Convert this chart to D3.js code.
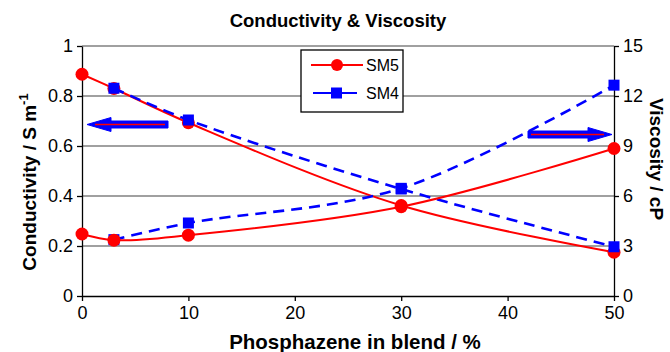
<!DOCTYPE html>
<html>
<head>
<meta charset="utf-8">
<script src="https://cdn.jsdelivr.net/npm/d3@7"></script>
<style>
  html, body { margin: 0; padding: 0; background: #fff; }
  svg { display: block; font-family: "Liberation Sans", Arial, sans-serif; }
</style>
</head>
<body>
<svg id="chart" width="670" height="352"></svg>
<script>
// Phosphazene content in the blend (%)
const xSM5 = [0, 3, 10, 30, 50];
const xSM4 = [3, 10, 30, 50];

// Conductivity, S m^-1 (left axis)
const condSM5 = [0.887, 0.83, 0.693, 0.362, 0.175];
const condSM4 = [0.831, 0.704, 0.428, 0.197];

// Viscosity, cP (right axis)
const viscSM5 = [3.72, 3.35, 3.65, 5.36, 8.85];
const viscSM4 = [3.38, 4.38, 6.46, 12.65];

const xTicks = [0, 10, 20, 30, 40, 50];
const condTicks = [0, 0.2, 0.4, 0.6, 0.8, 1];
const viscTicks = [0, 3, 6, 9, 12, 15];

const svg = d3.select("#chart");
const W = 670, H = 352;
const m = { left: 82, right: 56, top: 46, bottom: 56 };

const x = d3.scaleLinear().domain([0, 50]).range([m.left, W - m.right]);
const yL = d3.scaleLinear().domain([0, 1]).range([H - m.bottom, m.top]);
const yR = d3.scaleLinear().domain([0, 15]).range([H - m.bottom, m.top]);

const RED = "#ff0000", BLUE = "#0000ff";

// Horizontal gridlines
svg.append("g").selectAll("line")
  .data(condTicks.slice(1))
  .join("line")
  .attr("x1", m.left).attr("x2", W - m.right)
  .attr("y1", d => yL(d)).attr("y2", d => yL(d))
  .attr("stroke", "#808080").attr("stroke-width", 1.3);

// Axes
const axisStyle = g => {
  g.select(".domain").attr("stroke", "#000").attr("stroke-width", 1.3);
  g.selectAll(".tick line").attr("stroke", "#000").attr("stroke-width", 1.3);
  g.selectAll(".tick text").attr("font-size", 18).attr("fill", "#000")
    .attr("font-family", "Liberation Sans, Arial, sans-serif");
};

svg.append("g")
  .attr("transform", `translate(0,${H - m.bottom})`)
  .call(d3.axisBottom(x).tickValues(xTicks).tickSize(5).tickSizeOuter(0).tickPadding(5))
  .call(axisStyle);

svg.append("g")
  .attr("transform", `translate(${m.left},0)`)
  .call(d3.axisLeft(yL).tickValues(condTicks).tickFormat(d3.format("~g")).tickSize(5).tickSizeOuter(0).tickPadding(4))
  .call(axisStyle);

svg.append("g")
  .attr("transform", `translate(${W - m.right},0)`)
  .call(d3.axisRight(yR).tickValues(viscTicks).tickSize(5).tickSizeOuter(0).tickPadding(4))
  .call(axisStyle);

// Series drawing
const curve = d3.curveCatmullRom.alpha(0.5);
function drawSeries(xs, ys, yScale, color, dashed, marker) {
  const pts = xs.map((v, i) => [x(v), yScale(ys[i])]);
  svg.append("path")
    .attr("d", d3.line().curve(curve)(pts))
    .attr("fill", "none")
    .attr("stroke", color)
    .attr("stroke-width", dashed ? 2.6 : 2)
    .attr("stroke-dasharray", dashed ? "11,7" : null);
  const g = svg.append("g");
  if (marker === "circle") {
    g.selectAll("circle").data(pts).join("circle")
      .attr("cx", d => d[0]).attr("cy", d => d[1]).attr("r", 6.5)
      .attr("fill", color);
  } else {
    g.selectAll("rect").data(pts).join("rect")
      .attr("x", d => d[0] - 5.5).attr("y", d => d[1] - 5.5)
      .attr("width", 11).attr("height", 11)
      .attr("fill", color);
  }
}

drawSeries(xSM5, condSM5, yL, RED, false, "circle");
drawSeries(xSM4, condSM4, yL, BLUE, true, "square");
drawSeries(xSM4, viscSM4, yR, BLUE, true, "square");
drawSeries(xSM5, viscSM5, yR, RED, false, "circle");

// Block arrows pointing to the relevant axis
function blockArrow(x0, x1, yc) {
  const dir = x1 > x0 ? 1 : -1;
  const headLen = 24, headHalf = 7, shaftHalf = 3.5;
  const xh = x1 - dir * headLen;
  const pts = [
    [x0, yc - shaftHalf], [xh, yc - shaftHalf], [xh, yc - headHalf],
    [x1, yc], [xh, yc + headHalf], [xh, yc + shaftHalf], [x0, yc + shaftHalf]
  ];
  svg.append("path")
    .attr("d", d3.line()(pts) + "Z")
    .attr("fill", BLUE).attr("stroke", BLUE).attr("stroke-width", 1);
  svg.append("line")
    .attr("x1", x0 + dir * 3).attr("x2", x1 - dir * 8)
    .attr("y1", yc).attr("y2", yc)
    .attr("stroke", RED).attr("stroke-width", 1.6);
}
blockArrow(168, 87, 124.5);
blockArrow(528, 612, 134.5);

// Legend
const lg = svg.append("g");
lg.append("rect")
  .attr("x", 301).attr("y", 50).attr("width", 102).attr("height", 62)
  .attr("fill", "#fff").attr("stroke", "#000").attr("stroke-width", 1.3);
const legendItems = [
  { name: "SM5", color: RED, dashed: false, marker: "circle", y: 65 },
  { name: "SM4", color: BLUE, dashed: true, marker: "square", y: 93 }
];
legendItems.forEach(it => {
  lg.append("line")
    .attr("x1", it.dashed ? 313 : 311).attr("x2", it.dashed ? 357 : 363)
    .attr("y1", it.y).attr("y2", it.y)
    .attr("stroke", it.color).attr("stroke-width", 2);
  if (it.marker === "circle") {
    lg.append("circle").attr("cx", 337).attr("cy", it.y).attr("r", 6).attr("fill", it.color);
  } else {
    lg.append("rect").attr("x", 331).attr("y", it.y - 5.5).attr("width", 11).attr("height", 11).attr("fill", it.color);
  }
  lg.append("text")
    .attr("x", 366).attr("y", it.y + 6)
    .attr("font-size", 16).attr("fill", "#000")
    .text(it.name);
});

// Titles
svg.append("text")
  .attr("x", 338).attr("y", 27)
  .attr("text-anchor", "middle").attr("font-size", 18.5).attr("font-weight", "bold")
  .text("Conductivity & Viscosity");

svg.append("text")
  .attr("x", 355).attr("y", 349)
  .attr("text-anchor", "middle").attr("font-size", 20.5).attr("font-weight", "bold")
  .text("Phosphazene in blend / %");

const yl = svg.append("text")
  .attr("transform", `translate(36,182) rotate(-90)`)
  .attr("text-anchor", "middle").attr("font-size", 19).attr("font-weight", "bold");
yl.append("tspan").text("Conductivity / S m");
yl.append("tspan").attr("dy", -8).attr("font-size", 13).text("-1");

svg.append("text")
  .attr("transform", `translate(650,159) rotate(90)`)
  .attr("text-anchor", "middle").attr("font-size", 19).attr("font-weight", "bold")
  .text("Viscosity / cP");
</script>
</body>
</html>
